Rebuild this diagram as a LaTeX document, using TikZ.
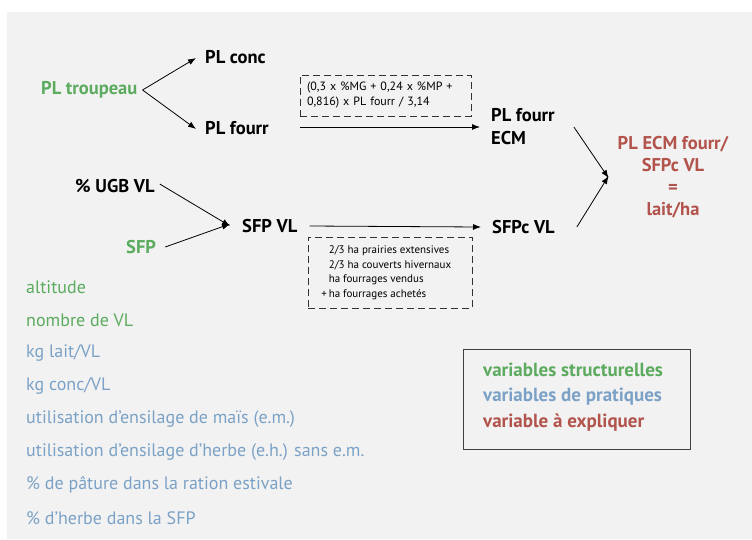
\documentclass[tikz,border=0pt]{standalone}
\usepackage{fontspec}
\setmainfont{PT Sans}
\usetikzlibrary{arrows.meta}

\definecolor{bggrey}{HTML}{F2F2F2}
\definecolor{structgreen}{HTML}{5CAB5F}
\definecolor{pratblue}{HTML}{7BA2C6}
\definecolor{explred}{HTML}{B2534C}

\begin{document}
\begin{tikzpicture}[x=1pt,y=-1pt,>={Latex[length=8pt,width=6pt]},
      var node/.style={inner sep=0pt,anchor=west,font=\bfseries\fontsize{18.5}{22}\selectfont},
      list node/.style={inner sep=0pt,anchor=west,font=\fontsize{18}{20}\selectfont},
      leg node/.style={inner sep=0pt,anchor=west,font=\bfseries\fontsize{19}{20}\selectfont},
      calc box/.style={draw=black!80,dash pattern=on 7pt off 4pt,align=left,
        inner ysep=4pt},
      link/.style={->,line width=0.8pt}]
    \useasboundingbox (0,0) rectangle (752,539);
    \fill[bggrey] (7,12) rectangle (752,539);

    % variables
    \node[var node,text=structgreen] (troup) at (41,90) {PL troupeau};
    \node[var node] (conc) at (205,57) {PL conc};
    \node[var node] (fourr) at (205,128) {PL fourr};
    \node[var node,align=left,font=\bfseries\fontsize{18.5}{23}\selectfont] (ecm) at (491,127)
      {PL fourr\\ECM};
    \node[var node] (ugb) at (75,186) {\% UGB VL};
    \node[var node,text=structgreen] (sfp) at (126,247) {SFP};
    \node[var node] (sfpvl) at (242,226) {SFP VL};
    \node[var node] (sfpc) at (492,227) {SFPc VL};
    \node[var node,anchor=center,align=center,text=explred] (res) at (673,177)
      {PL ECM fourr/\\SFPc VL\\=\\lait/ha};

    % formulas
    \node[calc box,text width=157pt,inner xsep=7pt,minimum height=41pt,
      font=\fontsize{12}{15}\selectfont] (eqbox) at (385.5,95.5)
      {(0,3 x \%MG + 0,24 x \%MP +\\0,816) x PL fourr / 3,14};
    \node[calc box,minimum width=164pt,minimum height=71pt,
      font=\fontsize{11}{14.5}\selectfont] (habox) at (390,272.5)
      {2/3 ha prairies extensives\\2/3 ha couverts hivernaux\\ha fourrages vendus\\\llap{+\,}ha fourrages achetés};

    % arrows
    \draw[link] ([xshift=5pt]troup.east) -- ([xshift=-9pt,yshift=-1pt]conc.west);
    \draw[link] ([xshift=5pt]troup.east) -- ([xshift=-9pt,yshift=-1pt]fourr.west);
    \draw[link] (eqbox.west |- ecm.west) -- ([xshift=-11pt]ecm.west);
    \draw[link] ([xshift=5pt,yshift=2pt]ugb.east) -- ([xshift=-12pt]sfpvl.west);
    \draw[link] ([xshift=9pt]sfp.east) -- ([xshift=-12pt,yshift=2pt]sfpvl.west);
    \draw[link] ([xshift=12pt]sfpvl.east) -- ([xshift=-11pt]sfpc.west);
    \draw[link] ([xshift=19pt]ecm.east) -- ([xshift=-9pt,yshift=-1pt]res.west);
    \draw[link] ([xshift=22pt]sfpc.east) -- ([xshift=-9pt,yshift=1pt]res.west);

    % list of explanatory variables
    \foreach \i/\txt/\col in {0/altitude/structgreen,1/nombre de VL/structgreen,
        2/{kg lait/VL}/pratblue,3/{kg conc/VL}/pratblue,
        4/utilisation d’ensilage de maïs (e.m.)/pratblue,
        5/utilisation d’ensilage d’herbe (e.h.) sans e.m./pratblue,
        6/\% de pâture dans la ration estivale/pratblue,
        7/\% d’herbe dans la SFP/pratblue}
      \node[list node,text=\col] (lst\i) at (26,287+33*\i) {\txt};

    % legend
    \draw[black!75,line width=1pt] (463,349) rectangle (690,449);
    \node[leg node,text=structgreen] (leg1) at (483,370) {variables structurelles};
    \node[leg node,text=pratblue] (leg2) at (483,397) {variables de pratiques};
    \node[leg node,text=explred] (leg3) at (483,423) {variable à expliquer};
  \end{tikzpicture}
\end{document}
